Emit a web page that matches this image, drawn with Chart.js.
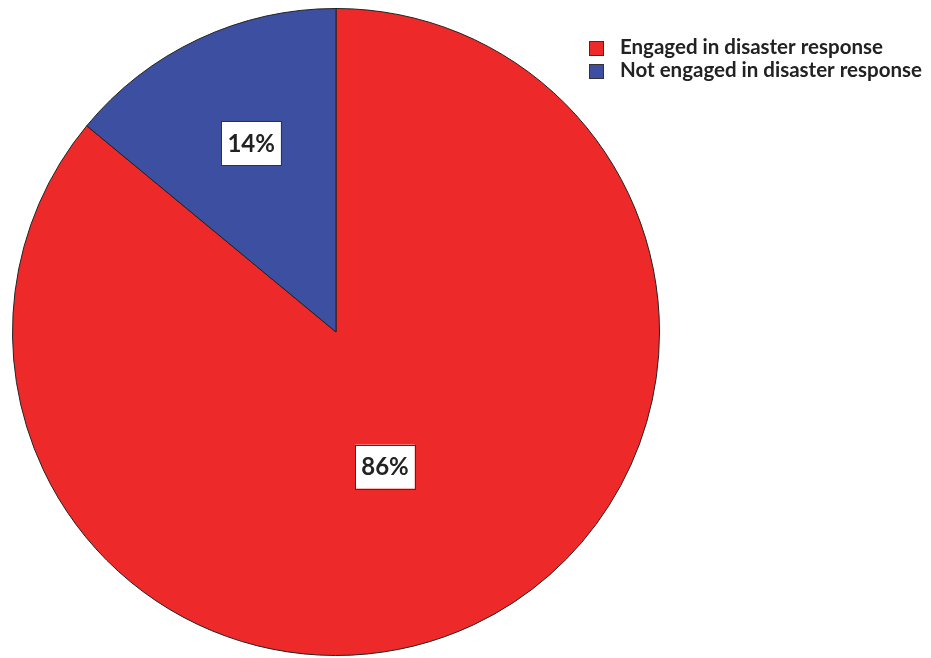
<!DOCTYPE html>
<html><head><meta charset="utf-8">
<script src="https://cdn.jsdelivr.net/npm/chart.js@4/dist/chart.umd.min.js"></script>
<style>html,body{margin:0;padding:0;background:#fff;}canvas{display:block;}</style>
</head><body>
<canvas id="c" width="931" height="658"></canvas>
<script>
const categories = ["Engaged in disaster response", "Not engaged in disaster response"];
const values = [86, 14];
const valueLabels = ["86%", "14%"];
const colors = ["#ED2A29", "#3C4FA0"];
const labelRadiusFrac = [0.443, 0.64];
const labelAngleShift = [5.2, 1];

const FONT = "Lato, 'Open Sans', sans-serif";

const labelPlugin = {
  id: 'boxLabels',
  afterDatasetsDraw(chart) {
    const ctx = chart.ctx;
    const meta = chart.getDatasetMeta(0);
    ctx.save();
    meta.data.forEach((arc, i) => {
      const mid = (arc.startAngle + arc.endAngle) / 2 + labelAngleShift[i] * Math.PI / 180;
      const r = arc.outerRadius * labelRadiusFrac[i];
      const x = arc.x + Math.cos(mid) * r;
      const y = arc.y + Math.sin(mid) * r;
      ctx.font = "bold 24px " + FONT;
      const tw = ctx.measureText(valueLabels[i]).width;
      const w = tw + 12, h = 44;
      ctx.fillStyle = "#fff";
      ctx.fillRect(x - w/2, y - h/2, w, h);
      ctx.strokeStyle = "#333";
      ctx.lineWidth = 1;
      ctx.strokeRect(Math.round(x - w/2) + 0.5, Math.round(y - h/2) + 0.5, Math.round(w), Math.round(h));
      ctx.fillStyle = "#222";
      ctx.textAlign = "center";
      ctx.textBaseline = "middle";
      ctx.fillText(valueLabels[i], x, y + 1);
    });
    ctx.restore();
  }
};

const legendPlugin = {
  id: 'customLegend',
  afterDraw(chart) {
    const ctx = chart.ctx;
    ctx.save();
    const x0 = 589, y0 = 41, step = 23, box = 15;
    chart.data.labels.forEach((lab, i) => {
      const y = y0 + i * step;
      ctx.fillStyle = chart.data.datasets[0].backgroundColor[i];
      ctx.fillRect(x0, y, box, box);
      ctx.strokeStyle = "#333";
      ctx.lineWidth = 1;
      ctx.strokeRect(x0 + 0.5, y + 0.5, box - 1, box - 1);
      ctx.fillStyle = "#222";
      ctx.font = "bold 20.5px " + FONT;
      ctx.textAlign = "left";
      ctx.textBaseline = "middle";
      ctx.fillText(lab, 620, y + box / 2 - 1);
    });
    ctx.restore();
  }
};

new Chart(document.getElementById('c'), {
  type: 'pie',
  data: {
    labels: categories,
    datasets: [{
      data: values,
      backgroundColor: colors,
      borderColor: "#222",
      borderWidth: 1
    }]
  },
  options: {
    responsive: false,
    animation: false,
    rotation: 0,
    layout: { padding: { left: 12, right: 271, top: 8, bottom: 2 } },
    plugins: { legend: { display: false }, tooltip: { enabled: false } }
  },
  plugins: [labelPlugin, legendPlugin]
});
</script>
</body></html>
